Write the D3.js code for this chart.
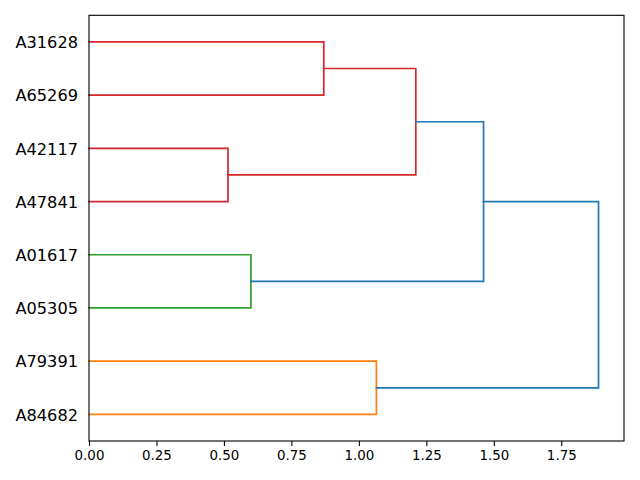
<!DOCTYPE html>
<html>
<head>
<meta charset="utf-8">
<script src="https://cdn.jsdelivr.net/npm/d3@7"></script>
<style>
  html, body { margin: 0; padding: 0; background: #fff; }
  svg { display: block; font-family: "DejaVu Sans", sans-serif; }
</style>
</head>
<body>
<svg id="chart" width="640" height="480"></svg>
<script>
// ---- data ----
const leafLabels = ["A31628", "A65269", "A42117", "A47841", "A01617", "A05305", "A79391", "A84682"];
// linkage: node ids 0..7 are leaves, merges create ids 8..14
const linkLeft   = [0, 2, 8, 4, 10, 6, 12];
const linkRight  = [1, 3, 9, 5, 11, 7, 13];
const linkHeight = [0.870, 0.515, 1.211, 0.600, 1.462, 1.065, 1.888];
const linkCluster = [3, 3, 3, 2, 0, 1, 0]; // 0 = above threshold
const xTicks = [0.00, 0.25, 0.50, 0.75, 1.00, 1.25, 1.50, 1.75];

// ---- style ----
const palette = ["#1f77b4", "#ff7f0e", "#2ca02c", "#d62728"];
const W = 640, H = 480;
const margin = { left: 89, right: 16, top: 15.3, bottom: 39 };

const svg = d3.select("#chart");
const x = d3.scaleLinear()
  .domain([0, d3.max(linkHeight) * 1.05])
  .range([margin.left, W - margin.right]);
const y = d3.scaleLinear()
  .domain([0, leafLabels.length * 10])
  .range([H - margin.bottom, margin.top]);

// node positions
const nLeaves = leafLabels.length;
const nodePos = [];
leafLabels.forEach((l, i) => { nodePos[i] = { h: 0, yv: (nLeaves - i) * 10 - 5 }; });
linkLeft.forEach((l, k) => {
  const a = nodePos[l], b = nodePos[linkRight[k]];
  nodePos[nLeaves + k] = { h: linkHeight[k], yv: (a.yv + b.yv) / 2 };
});

// links
const g = svg.append("g");
linkLeft.forEach((l, k) => {
  const a = nodePos[l], b = nodePos[linkRight[k]], h = linkHeight[k];
  const p = d3.path();
  p.moveTo(x(a.h), y(a.yv));
  p.lineTo(x(h), y(a.yv));
  p.lineTo(x(h), y(b.yv));
  p.lineTo(x(b.h), y(b.yv));
  g.append("path")
    .attr("d", p.toString())
    .attr("fill", "none")
    .attr("stroke", palette[linkCluster[k]])
    .attr("stroke-width", 1.7)
    .attr("stroke-linejoin", "miter")
    .attr("stroke-linecap", "square");
});

// x axis
const xAxis = d3.axisBottom(x)
  .tickValues(xTicks)
  .tickFormat(d3.format(".2f"))
  .tickSizeInner(4.9)
  .tickSizeOuter(0)
  .tickPadding(4.3);
const ax = svg.append("g")
  .attr("transform", `translate(0,${H - margin.bottom})`)
  .call(xAxis);
ax.select(".domain").remove();
ax.selectAll(".tick line").attr("stroke", "#000").attr("stroke-width", 1.1);
ax.selectAll(".tick text")
  .attr("fill", "#000")
  .style("font-size", "13.4px")
  .style("font-family", "'DejaVu Sans', sans-serif");

// leaf labels (y axis without tick marks)
svg.append("g").selectAll("text")
  .data(leafLabels)
  .join("text")
  .attr("x", margin.left - 11)
  .attr("y", (d, i) => y(nodePos[i].yv))
  .attr("dy", "0.39em")
  .attr("text-anchor", "end")
  .attr("fill", "#000")
  .style("font-size", "16.2px")
  .text(d => d);

// frame
svg.append("rect")
  .attr("x", margin.left)
  .attr("y", margin.top)
  .attr("width", W - margin.right - margin.left)
  .attr("height", H - margin.bottom - margin.top)
  .attr("fill", "none")
  .attr("stroke", "#000")
  .attr("stroke-width", 1.1);
</script>
</body>
</html>
